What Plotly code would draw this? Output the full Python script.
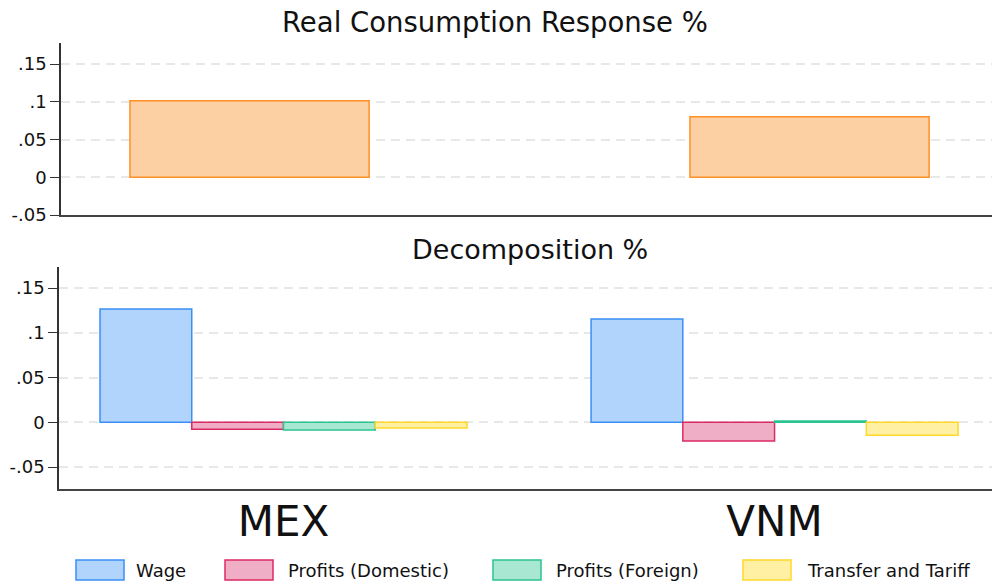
import plotly.graph_objects as go

# ---- data ----
countries = ["MEX", "VNM"]
real_consumption = [0.1016, 0.0804]
wage = [0.1267, 0.1155]
profits_domestic = [-0.0078, -0.0209]
profits_foreign = [-0.0086, 0.0015]
transfer_tariff = [-0.0064, -0.0145]

series_names = ["Wage", "Profits (Domestic)", "Profits (Foreign)", "Transfer and Tariff"]
series_values = [wage, profits_domestic, profits_foreign, transfer_tariff]
fill_colors = ["#b0d4fc", "#f0aec6", "#a8e8d3", "#fff0a3"]
line_colors = ["#3a8ef5", "#dc2a62", "#2bc48e", "#ffd72b"]

ytick_vals = [-0.05, 0, 0.05, 0.1, 0.15]
ytick_text = ["-.05", "0", ".05", ".1", ".15"]

FONT = "DejaVu Sans"
W, H = 992, 588

fig = go.Figure()

fig.add_trace(go.Bar(
    x=countries, y=real_consumption, width=0.427,
    marker=dict(color="#fdd0a3", line=dict(color="#ff8f24", width=1.5)),
    xaxis="x", yaxis="y", showlegend=False, name="Real Consumption",
))

for name, vals, fc, lc in zip(series_names, series_values, fill_colors, line_colors):
    fig.add_trace(go.Bar(
        x=countries, y=vals, name=name,
        marker=dict(color=fc, line=dict(color=lc, width=1.5)),
        xaxis="x2", yaxis="y2", showlegend=False,
    ))

yaxis_common = dict(
    tickvals=ytick_vals, ticktext=ytick_text,
    showgrid=True, gridcolor="#e8e8e8", gridwidth=1.5, griddash="9px,6px",
    zeroline=False, showline=True, linecolor="#333333", linewidth=1.5,
    ticks="outside", ticklen=9, tickwidth=1.2, tickcolor="#333333",
    tickfont=dict(family=FONT, size=18, color="#111111"),
    automargin=False,
)

fig.update_layout(
    width=W, height=H,
    margin=dict(l=0, r=0, t=0, b=0, autoexpand=False),
    paper_bgcolor="white", plot_bgcolor="white",
    barmode="group", bargap=0.2526, bargroupgap=0,
    font=dict(family=FONT, color="#111111"),
    xaxis=dict(domain=[61 / W, 1], anchor="y", range=[-0.3367, 1.3258],
               showticklabels=False, ticks="", showgrid=False, zeroline=False,
               showline=True, linecolor="#444444", linewidth=2, automargin=False),
    yaxis=dict(domain=[1 - 215 / H, 1 - 43 / H], anchor="x", range=[-0.05, 0.178], **yaxis_common),
    xaxis2=dict(domain=[59 / W, 1], anchor="y2", range=[-0.4572, 1.4428],
                ticks="", showgrid=False, zeroline=False,
                showline=True, linecolor="#444444", linewidth=2,
                tickfont=dict(family=FONT, size=42, color="#111111"),
                ticklabelstandoff=-5, automargin=False),
    yaxis2=dict(domain=[1 - 489 / H, 1 - 266.7 / H], anchor="x2", range=[-0.0746, 0.174], **yaxis_common),
    showlegend=False,
)

# titles
fig.add_annotation(text="Real Consumption Response %", x=495 / W, y=1 - 22 / H,
                   xref="paper", yref="paper", xanchor="center", yanchor="middle",
                   showarrow=False, font=dict(family=FONT, size=27.5, color="#111111"))
fig.add_annotation(text="Decomposition %", x=530 / W, y=1 - 249 / H,
                   xref="paper", yref="paper", xanchor="center", yanchor="middle",
                   showarrow=False, font=dict(family=FONT, size=27, color="#111111"))

# legend (keys drawn as boxes with labels)
legend_box_left = [76, 225, 493, 743]
legend_text_left = [134, 286, 554, 805]
for i, name in enumerate(series_names):
    x0 = legend_box_left[i]
    fig.add_shape(type="rect", xref="paper", yref="paper",
                  x0=x0 / W, x1=(x0 + 48) / W, y0=1 - 580 / H, y1=1 - 560 / H,
                  fillcolor=fill_colors[i], line=dict(color=line_colors[i], width=1.5))
    fig.add_annotation(text=name, x=legend_text_left[i] / W, y=1 - 570 / H,
                       xref="paper", yref="paper", xanchor="left", yanchor="middle",
                       showarrow=False, font=dict(family=FONT, size=18, color="#111111"))

fig.write_html(
    "out.html",
    config={"displayModeBar": False},
    post_script="document.body.style.margin='0';document.body.style.padding='0';"
                "document.body.style.overflow='hidden';",
)
